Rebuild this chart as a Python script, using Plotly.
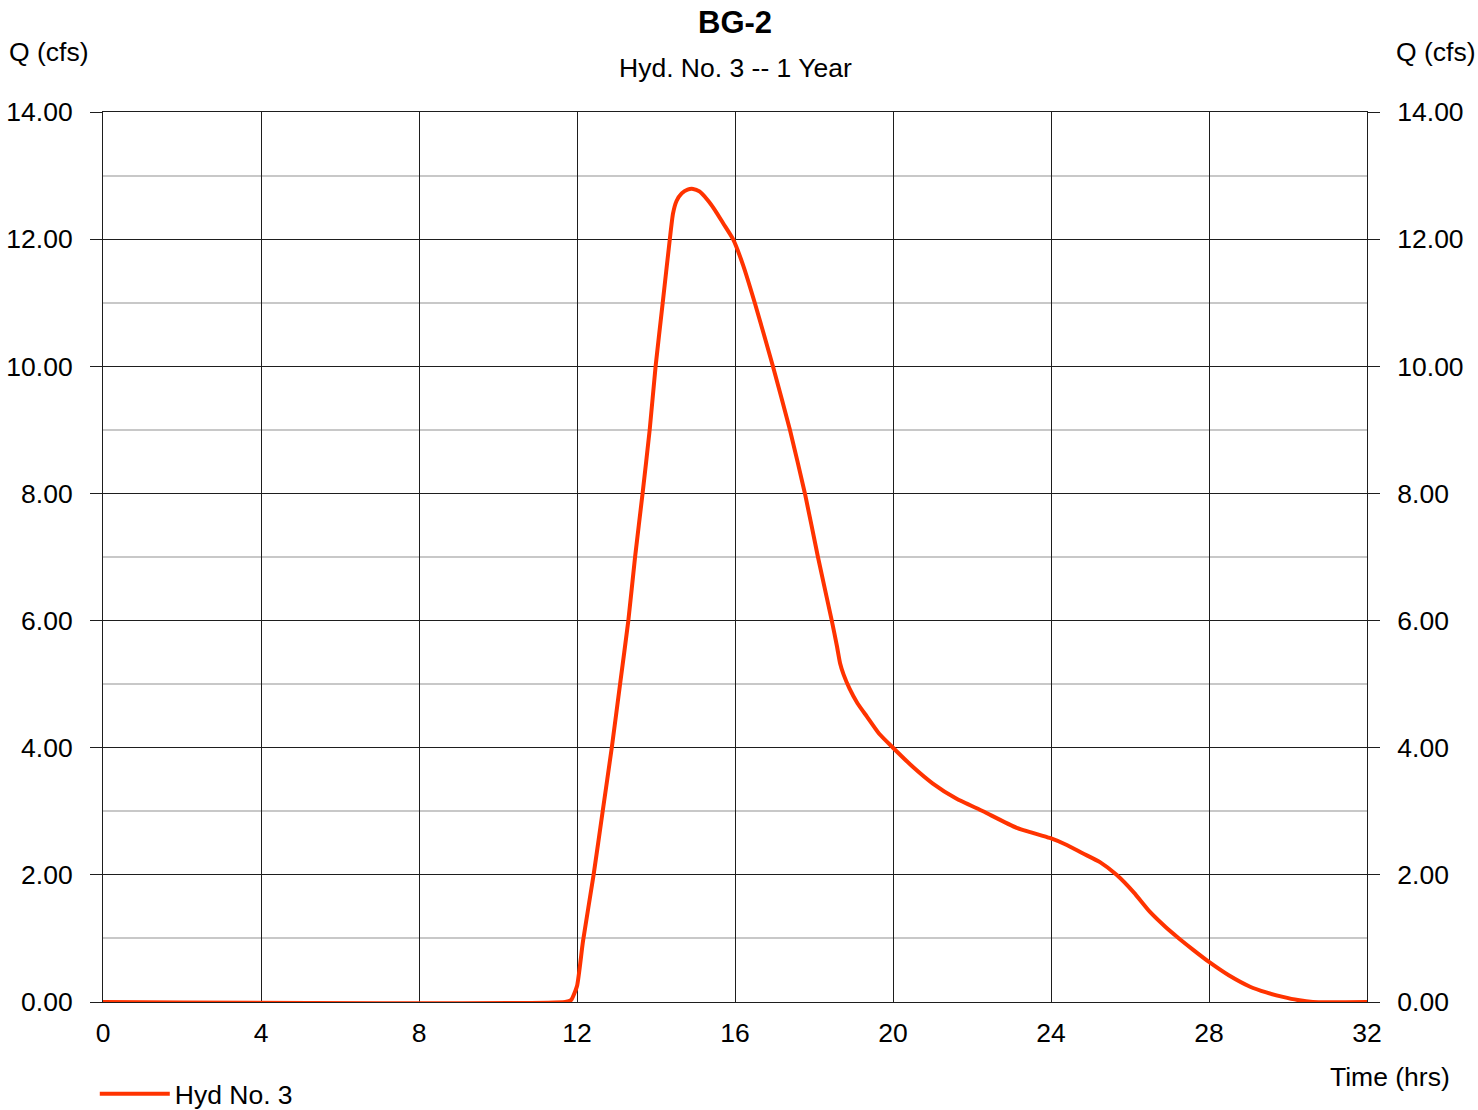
import plotly.graph_objects as go

# Hydrograph ordinates: time (hrs) and discharge Q (cfs)
time_hrs = [0, 11.7, 11.85, 12.0, 12.15, 12.42, 12.65, 12.88, 13.09, 13.30, 13.47,
            13.66, 13.84, 13.99, 14.17, 14.35, 14.43, 14.52, 14.65, 14.8, 14.94,
            15.1, 15.3, 15.5, 15.7, 15.95, 16.2, 16.5, 16.96, 17.39, 17.77, 18.10,
            18.45, 18.58, 18.66, 18.75, 18.9, 19.1, 19.34, 19.65, 20.0, 20.5, 21.0,
            21.6, 22.28, 23.13, 23.97, 24.4, 24.8, 25.24, 25.66, 26.1, 26.5, 26.9,
            27.24, 27.6, 28.0, 28.5, 29.04, 29.45, 29.87, 30.25, 30.63, 32.0]
flow_cfs = [0, 0, 0.03, 0.25, 0.95, 2.0, 3.0, 4.0, 5.0, 6.0, 7.0,
            8.0, 9.0, 10.0, 11.0, 12.0, 12.4, 12.6, 12.72, 12.78, 12.79,
            12.75, 12.62, 12.45, 12.25, 12.0, 11.6, 11.0, 10.0, 9.0, 8.0, 7.0,
            6.0, 5.6, 5.33, 5.15, 4.93, 4.7, 4.49, 4.22, 4.0, 3.7, 3.44,
            3.2, 3.0, 2.74, 2.58, 2.47, 2.34, 2.2, 2.0, 1.72, 1.42, 1.18,
            1.0, 0.82, 0.63, 0.42, 0.24, 0.15, 0.08, 0.03, 0.0, 0.0]

series_name = "Hyd No. 3"
chart_title = "BG-2"
chart_subtitle = "Hyd. No. 3 -- 1 Year"
y_label = "Q (cfs)"
x_label = "Time (hrs)"

FONT = "Liberation Sans, Arial, sans-serif"
FS = 26.5
LINE_COLOR = "#ff3300"
MAJOR_GRID = "#1e1e1e"
MINOR_GRID = "#c8c8c8"

fig = go.Figure()
fig.add_trace(go.Scatter(
    x=time_hrs, y=flow_cfs, mode="lines", name=series_name, cliponaxis=False,
    line=dict(color=LINE_COLOR, width=4, shape="spline", smoothing=0.5), yaxis="y",
))
# duplicate on the right-hand axis so its ticks and labels are drawn
fig.add_trace(go.Scatter(
    x=time_hrs, y=flow_cfs, mode="lines", showlegend=False, hoverinfo="skip",
    line=dict(color=LINE_COLOR, width=4), yaxis="y2", opacity=0,
))

yaxis_common = dict(
    range=[0, 14], dtick=2, tickformat=".2f",
    ticks="outside", ticklen=12, tickcolor=MAJOR_GRID, tickwidth=1,
    ticklabelstandoff=12,
    tickfont=dict(family=FONT, size=FS, color="#000"),
    zeroline=False,
)


def label(text, x, xshift, y, yshift, size=FS):
    return dict(text=text, xref="paper", yref="paper", x=x, y=y,
                xshift=xshift, yshift=yshift, xanchor="center", yanchor="middle",
                showarrow=False, font=dict(family=FONT, size=size, color="#000"))


fig.update_layout(
    width=1478, height=1110,
    margin=dict(l=103, r=111, t=112, b=108, autoexpand=False),
    paper_bgcolor="white", plot_bgcolor="white",
    font=dict(family=FONT, color="#000"),
    xaxis=dict(
        range=[0, 32], dtick=4, showgrid=True, gridcolor=MAJOR_GRID, gridwidth=1,
        ticks="outside", ticklen=7, tickcolor="rgba(0,0,0,0)",
        tickfont=dict(family=FONT, size=FS, color="#000"),
        zeroline=False, showline=True, linecolor=MAJOR_GRID, linewidth=1, mirror=True,
    ),
    yaxis=dict(
        **yaxis_common, side="left",
        showgrid=True, gridcolor=MAJOR_GRID, gridwidth=1,
        minor=dict(dtick=1, showgrid=True, gridcolor=MINOR_GRID, gridwidth=2),
        showline=True, linecolor=MAJOR_GRID, linewidth=1, mirror=True,
    ),
    yaxis2=dict(
        **yaxis_common, side="right", overlaying="y", showgrid=False,
    ),
    showlegend=True,
    legend=dict(
        x=-0.0065, xanchor="left", y=-0.1034, yanchor="middle",
        orientation="h", itemwidth=70,
        font=dict(family=FONT, size=FS, color="#000"),
        bgcolor="rgba(0,0,0,0)",
    ),
    annotations=[
        label("<b>" + chart_title + "</b>", 0.5, 0, 1.0, 90, size=31),
        label(chart_subtitle, 0.5, 0, 1.0, 44),
        label(y_label, 0, -54, 1.0, 60),
        label(y_label, 1, 69, 1.0, 60),
        label(x_label, 1, 23, 0, -75),
    ],
)

fig.write_html("out.html")
